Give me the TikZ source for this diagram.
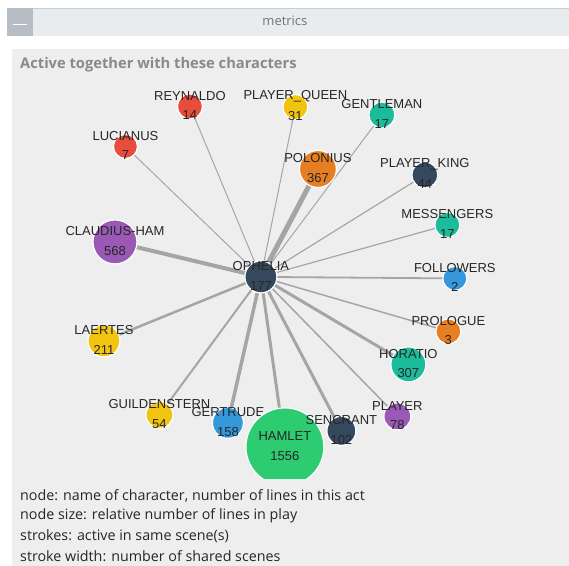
\documentclass[tikz,border=0pt]{standalone}
\usepackage{fontspec}
\setmainfont{Liberation Sans}
\newfontfamily\uifont{Open Sans}

\definecolor{cred}{HTML}{E74C3C}
\definecolor{cyel}{HTML}{F1C40F}
\definecolor{cteal}{HTML}{1ABC9C}
\definecolor{corange}{HTML}{E67E22}
\definecolor{cdark}{HTML}{34495E}
\definecolor{cpurple}{HTML}{9B59B6}
\definecolor{cblue}{HTML}{3498DB}
\definecolor{cgreen}{HTML}{2ECC71}
\definecolor{edgegray}{HTML}{999999}
\definecolor{panelgray}{HTML}{EEEEEE}
\definecolor{bargray}{HTML}{E9ECEF}
\definecolor{btngray}{HTML}{B6BDC4}
\definecolor{titlegray}{HTML}{8A8A8A}
\definecolor{txtdark}{HTML}{262626}

\pgfdeclarelayer{bg}
\pgfsetlayers{bg,main}

\begin{document}
\begin{tikzpicture}[x=1pt,y=-1pt,
  char/.style={circle,inner sep=0pt,draw=white,line width=1.2pt},
  lab/.style={font=\fontsize{13}{13}\selectfont,text=txtdark,inner sep=0pt},
  ui/.style={font=\uifont\fontsize{14.3}{14.3}\selectfont,inner sep=0pt,anchor=west},
  tie/.style={edgegray,opacity=0.85}]

% Window frame: header bar and panel
\begin{pgfonlayer}{bg}
\fill [white] (0,0) rectangle (569,566);
\fill [bargray] (7,8) rectangle (569,36);
\draw [gray!40] (7,8) -- (569,8);
\fill [btngray] (7,8) rectangle (33,36);
\draw [white,line width=1.2pt] (13,24.5) -- (27,24.5);
\fill [panelgray] (12,49) rectangle (569,566);
\end{pgfonlayer}
\node [ui,anchor=center,text=black!55,font=\uifont\fontsize{13}{13}\selectfont] (head) at (285,21) {metrics};
\node [ui,font=\uifont\bfseries\fontsize{14.7}{14.7}\selectfont,text=titlegray] (title) at (20,65)
  {Active together with these characters};

% Characters: name/x/y/radius/colour/label/lines
\begin{scope}
\clip (12,75) rectangle (569,479);
\foreach \n/\x/\y/\r/\c/\lab/\num in {
  oph/261/277/16/cdark/OPHELIA/177,
  luc/125.5/146.5/12/cred/LUCIANUS/7,
  rey/190/106.5/12.5/cred/REYNALDO/14,
  pqu/295.5/107/12.5/cyel/PLAYER\_QUEEN/31,
  gen/382/115/13/cteal/GENTLEMAN/17,
  pol/318/169/18.5/corange/POLONIUS/367,
  pki/425/175/13/cdark/PLAYER\_KING/44,
  mes/447.5/225/12.5/cteal/MESSENGERS/17,
  fol/455/278.5/12/cblue/FOLLOWERS/2,
  pro/448.5/331.5/12.5/corange/PROLOGUE/3,
  hor/408.5/364.5/17.5/cteal/HORATIO/307,
  ply/397.5/416.5/13.5/cpurple/PLAYER/78,
  cla/115/242/22/cpurple/CLAUDIUS-HAM/568,
  lae/104/341/16/cyel/LAERTES/211,
  gui/159.5/415/13.5/cyel/GUILDENSTERN/54,
  gtr/228/423/15.5/cblue/GERTRUDE/158,
  ham/285/447/39/cgreen/HAMLET/1556,
  sen/341.5/431/14.5/cdark/SENCRANT/102} {
  \node [char,fill=\c,minimum size={(2*\r)*1pt}] (\n) at (\x,\y) {};
  \node [lab] (\n-name) at ([yshift=10.5pt]\n.center) {\lab};
  \node [lab] (\n-num) at ([yshift=-9pt]\n.center) {\num};
}
\end{scope}

% Strokes to Ophelia, width = shared scenes
\begin{pgfonlayer}{bg}
\foreach \n/\w in {luc/1,rey/1,pqu/1,gen/1,pol/5,pki/1.2,mes/1.2,fol/1.8,
  pro/1.5,hor/3,ply/1.5,cla/4,lae/2.5,gui/2,gtr/3.5,ham/3,sen/3} {
  \draw [tie,line width=\w pt] (oph.center) -- (\n.center);
}
\end{pgfonlayer}

% Legend
\node [ui,text=txtdark] (leg1) at (20,496) {node: name of character, number of lines in this act};
\node [ui,text=txtdark] (leg2) at (20,516) {node size: relative number of lines in play};
\node [ui,text=txtdark] (leg3) at (20,536) {strokes: active in same scene(s)};
\node [ui,text=txtdark] (leg4) at (20,556) {stroke width: number of shared scenes};

\end{tikzpicture}
\end{document}
